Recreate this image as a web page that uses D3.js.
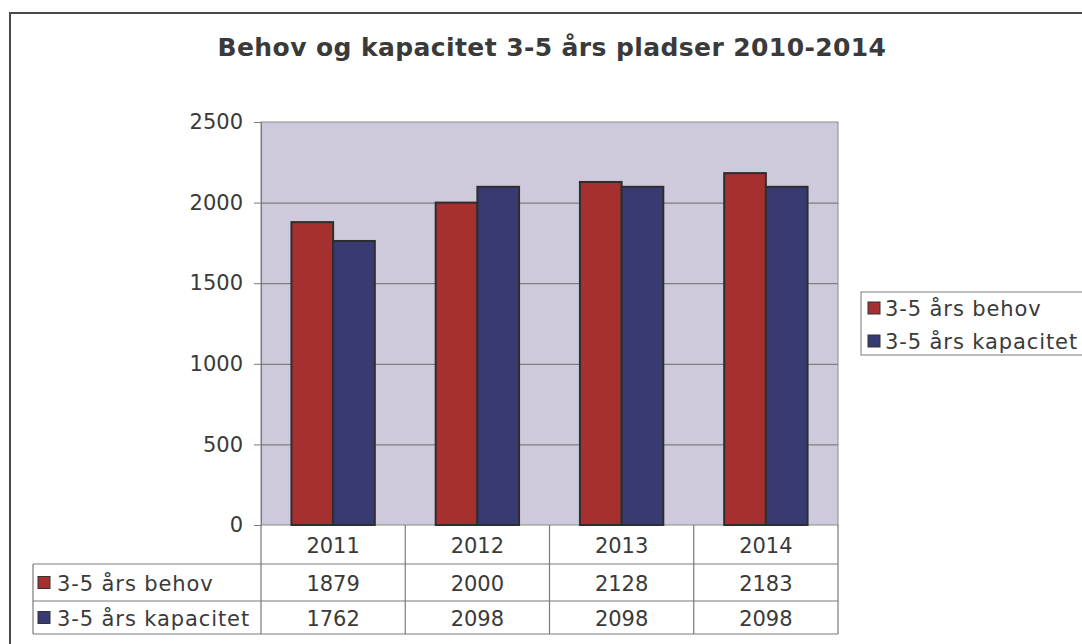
<!DOCTYPE html>
<html>
<head>
<meta charset="utf-8">
<script src="https://cdn.jsdelivr.net/npm/d3@7"></script>
<style>
  body { margin: 0; background: #ffffff; }
  text { font-family: "DejaVu Sans", Verdana, sans-serif; fill: #3a3a3a; }
</style>
</head>
<body>
<svg id="canvas"></svg>
<script>
// Chart data.
var years = ['2011', '2012', '2013', '2014'];
var seriesNames = ['3-5 års behov', '3-5 års kapacitet'];
var behov = [1879, 2000, 2128, 2183];
var kapacitet = [1762, 2098, 2098, 2098];
var yTicks = [0, 500, 1000, 1500, 2000, 2500];
var title = 'Behov og kapacitet 3-5 års pladser 2010-2014';

// Canvas and graph settings.
var canvas = {
  dim: { w: 1082, h: 644 },
  plot: { left: 261, right: 838, top: 122, bottom: 525 },
  colours: {
    frame: '#4a4a4a',
    plotBg: '#cfcadb',
    grid: '#6b6b6b',
    behov: '#a5302f',
    kapacitet: '#383b72',
    barStroke: '#2e2e2e',
    table: '#7a7a7a'
  }
};
var series = [behov, kapacitet];
var seriesColours = [canvas.colours.behov, canvas.colours.kapacitet];

var svg = d3.select('#canvas')
            .attr('width', canvas.dim.w)
            .attr('height', canvas.dim.h);

// Outer chart frame (runs past the right and bottom edge).
svg.append('rect')
   .attr('x', 10).attr('y', 13)
   .attr('width', 1200).attr('height', 800)
   .attr('fill', '#ffffff')
   .attr('stroke', canvas.colours.frame)
   .attr('stroke-width', 2);

// Title.
svg.append('text')
   .attr('x', 552).attr('y', 56)
   .attr('text-anchor', 'middle')
   .style('font-size', '25px')
   .style('font-weight', 'bold')
   .style('letter-spacing', '0.4px')
   .text(title);

// Scales.
var x = d3.scaleBand()
          .domain(years)
          .range([canvas.plot.left, canvas.plot.right]);

var xInner = d3.scaleBand()
               .domain(d3.range(series.length))
               .range([0, x.bandwidth()])
               .paddingOuter(0.73);

var y = d3.scaleLinear()
          .domain([0, 2500])
          .range([canvas.plot.bottom, canvas.plot.top]);

// Plot background.
svg.append('rect')
   .attr('x', canvas.plot.left).attr('y', canvas.plot.top)
   .attr('width', canvas.plot.right - canvas.plot.left)
   .attr('height', canvas.plot.bottom - canvas.plot.top)
   .attr('fill', canvas.colours.plotBg)
   .attr('stroke', '#8a8a8a');

// Gridlines.
svg.append('g')
   .selectAll('line')
   .data(yTicks.slice(1, -1))
   .enter()
   .append('line')
   .attr('x1', canvas.plot.left).attr('x2', canvas.plot.right)
   .attr('y1', function(d) { return y(d) + 0.5; })
   .attr('y2', function(d) { return y(d) + 0.5; })
   .attr('stroke', canvas.colours.grid);

// Y axis.
var yAxis = svg.append('g')
               .attr('transform', 'translate(' + canvas.plot.left + ',0)')
               .call(d3.axisLeft(y)
                       .tickValues(yTicks)
                       .tickFormat(d3.format('d'))
                       .tickSize(7)
                       .tickPadding(11));
yAxis.select('.domain').attr('stroke', '#7a7a7a');
yAxis.selectAll('.tick line').attr('stroke', '#7a7a7a');
yAxis.selectAll('.tick text')
     .style('font-size', '21px')
     .style('font-family', '"DejaVu Sans", Verdana, sans-serif')
     .attr('fill', '#3a3a3a');

// Bars.
var bars = svg.append('g');
series.forEach(function(values, s) {
  bars.selectAll('rect.s' + s)
      .data(values)
      .enter()
      .append('rect')
      .attr('class', 's' + s)
      .attr('x', function(d, i) { return x(years[i]) + xInner(s); })
      .attr('y', function(d) { return y(d); })
      .attr('width', xInner.bandwidth())
      .attr('height', function(d) { return y(0) - y(d); })
      .attr('fill', seriesColours[s])
      .attr('stroke', canvas.colours.barStroke)
      .attr('stroke-width', 2);
});

// Data table.
var rowH = [39, 37, 33];
var rowTop = [canvas.plot.bottom, canvas.plot.bottom + rowH[0], canvas.plot.bottom + rowH[0] + rowH[1]];
var tableBottom = rowTop[2] + rowH[2];
var labelLeft = 33;
var table = svg.append('g');

// Horizontal lines.
table.append('line')
     .attr('x1', labelLeft).attr('x2', canvas.plot.right)
     .attr('y1', rowTop[1]).attr('y2', rowTop[1]);
table.append('line')
     .attr('x1', labelLeft).attr('x2', canvas.plot.right)
     .attr('y1', rowTop[2]).attr('y2', rowTop[2]);
table.append('line')
     .attr('x1', labelLeft).attr('x2', canvas.plot.right)
     .attr('y1', tableBottom).attr('y2', tableBottom);

// Vertical lines.
table.append('line')
     .attr('x1', labelLeft).attr('x2', labelLeft)
     .attr('y1', rowTop[1]).attr('y2', tableBottom);
table.selectAll('line.col')
     .data(years.concat(['end']))
     .enter()
     .append('line')
     .attr('class', 'col')
     .attr('x1', function(d, i) { return canvas.plot.left + i * x.bandwidth(); })
     .attr('x2', function(d, i) { return canvas.plot.left + i * x.bandwidth(); })
     .attr('y1', canvas.plot.bottom)
     .attr('y2', tableBottom);
table.selectAll('line')
     .attr('stroke', canvas.colours.table)
     .attr('stroke-width', 1.2);

// Year header.
table.selectAll('text.year')
     .data(years)
     .enter()
     .append('text')
     .attr('class', 'year')
     .attr('x', function(d) { return x(d) + x.bandwidth() / 2; })
     .attr('y', rowTop[0] + rowH[0] / 2 + 8)
     .attr('text-anchor', 'middle')
     .style('font-size', '21px')
     .text(function(d) { return d; });

// Series rows.
series.forEach(function(values, s) {
  var cy = rowTop[s + 1] + rowH[s + 1] / 2;

  table.append('rect')
       .attr('x', labelLeft + 5).attr('y', cy - 6)
       .attr('width', 12).attr('height', 12)
       .attr('fill', seriesColours[s])
       .attr('stroke', '#333333');

  table.append('text')
       .attr('x', labelLeft + 24).attr('y', cy + 8)
       .style('font-size', '21px')
       .style('letter-spacing', '0.9px')
       .text(seriesNames[s]);

  table.selectAll('text.v' + s)
       .data(values)
       .enter()
       .append('text')
       .attr('class', 'v' + s)
       .attr('x', function(d, i) { return x(years[i]) + x.bandwidth() / 2; })
       .attr('y', cy + 8)
       .attr('text-anchor', 'middle')
       .style('font-size', '21px')
       .text(function(d) { return d; });
});

// Legend.
var legend = svg.append('g').attr('transform', 'translate(861,292)');
legend.append('rect')
      .attr('x', 0).attr('y', 0)
      .attr('width', 300).attr('height', 63)
      .attr('fill', '#ffffff')
      .attr('stroke', '#7a7a7a');
seriesNames.forEach(function(name, s) {
  var cy = 16 + s * 33;
  legend.append('rect')
        .attr('x', 7).attr('y', cy - 6)
        .attr('width', 12).attr('height', 12)
        .attr('fill', seriesColours[s])
        .attr('stroke', '#333333');
  legend.append('text')
        .attr('x', 24).attr('y', cy + 8)
        .style('font-size', '21px')
        .style('letter-spacing', '0.9px')
        .text(name);
});
</script>
</body>
</html>
